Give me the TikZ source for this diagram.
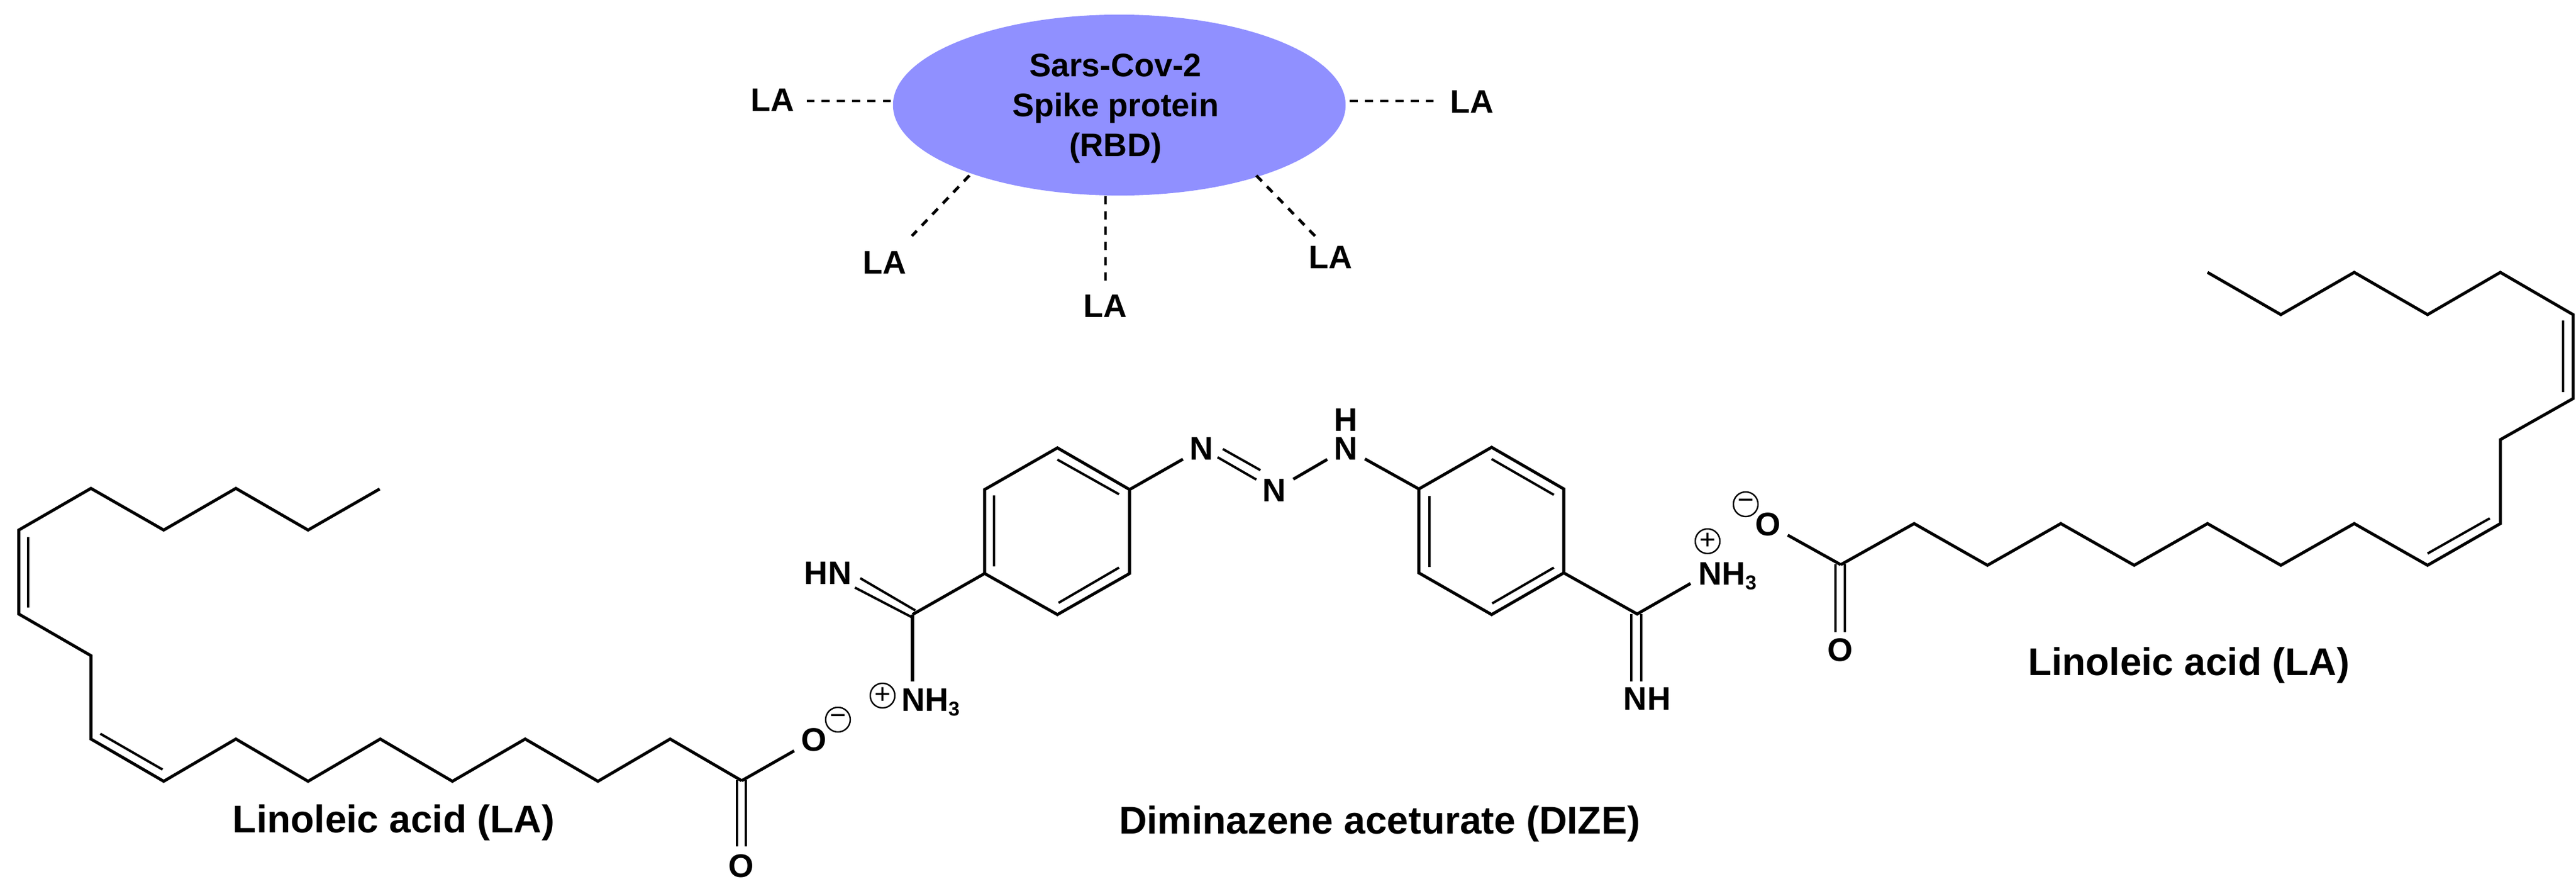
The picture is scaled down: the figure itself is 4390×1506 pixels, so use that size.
\documentclass[tikz,border=0pt]{standalone}
\usepackage{fontspec}
\setmainfont{Liberation Sans}
\usepackage{tikz}
\usetikzlibrary{shapes.geometric}
\definecolor{spikeblue}{RGB}{144,144,255}
\newcommand{\subthree}{\raisebox{-2.3pt}{\fontsize{9.7}{10}\selectfont 3}}
\begin{document}
\begin{tikzpicture}[
            x=0.01cm, y=-0.01cm,
            bond/.style={line width=1.45pt},
            innerbond/.style={line width=1.15pt},
            hbond/.style={line width=1.4pt, dash pattern=on 0.135cm off 0.125cm},
            atom/.style={inner sep=0pt, outer sep=0.12cm, font=\fontsize{15.8}{17}\selectfont\bfseries},
            atomtext/.style={atom, outer sep=0pt, anchor=base west},
            la/.style={atom, outer sep=0pt},
            title/.style={inner sep=0pt, anchor=base, font=\fontsize{18.7}{22}\selectfont\bfseries},
            charge/.style={circle, draw, line width=0.7pt, minimum size=0.42cm, inner sep=0pt, font=\fontsize{13.5}{14}\selectfont},
            protein/.style={ellipse, fill=spikeblue, minimum width=7.71cm, minimum height=3.08cm, inner sep=0pt},
            proteintext/.style={inner sep=0pt, align=center, font=\fontsize{15.8}{19.3}\selectfont\bfseries}
        ]
        \useasboundingbox (0,0) rectangle (4390,1506);

        % Spike protein
        \node[protein] (rbd) at (1907.5,179) {};
        \node[proteintext] (rbdtext) at (1901,185) {Sars-Cov-2\\Spike protein\\(RBD)};
        \node[la] (la1) at (1317,170) {LA};
        \node[la] (la2) at (2509,173) {LA};
        \node[la] (la3) at (1508,447) {LA};
        \node[la] (la4) at (1884,521) {LA};
        \node[la] (la5) at (2268,438) {LA};
        \coordinate (d1a) at (1518,172); \coordinate (d1b) at (1375,172);
        \coordinate (d2a) at (2300,172); \coordinate (d2b) at (2443,172);
        \coordinate (d3a) at (1652,299); \coordinate (d3b) at (1554,402);
        \coordinate (d4a) at (1884,334); \coordinate (d4b) at (1884,478);
        \coordinate (d5a) at (2141,299); \coordinate (d5b) at (2241,402);
        \foreach \a/\b in {d1a/d1b, d2a/d2b, d3a/d3b, d4a/d4b, d5a/d5b}
            \draw[hbond] (\a) -- (\b);

        % Left linoleic acid
        \coordinate (ca) at (1264,1330);
        \draw[bond] (647,833) -- (525,903) -- (402,832) -- (279,903) -- (155,832) -- (32,903)
            -- (32,1046) -- (155,1117) -- (155,1259) -- (279,1331) -- (402,1259) -- (525,1331)
            -- (648,1259) -- (771,1331) -- (895,1259) -- (1019,1331) -- (1142,1259) -- (ca);
        \draw[innerbond] (48,915) -- (48,1035);
        \draw[innerbond] (171,1250) -- (277,1311);
        \node[atom] (oa) at (1387,1260) {O};
        \node[atom] (ob) at (1263,1475) {O};
        \node[charge] (oaminus) at (1428,1226) {−};
        \draw[bond] (ca) -- (oa);
        \draw[innerbond] (1256,1329) -- (1256,1442);
        \draw[innerbond] (1271,1329) -- (1271,1442);
        \node[title] (laleft) at (671,1418) {Linoleic acid (LA)};

        % Diminazene
        \coordinate (r1ur) at (1925,834); \coordinate (r1ll) at (1678,977);
        \coordinate (r2ul) at (2418,833); \coordinate (r2lr) at (2665,976);
        \coordinate (cl) at (1555,1047); \coordinate (cr) at (2790,1046);
        \draw[bond] (1802,763) -- (r1ur) -- (1925,977) -- (1802,1047) -- (r1ll) -- (1678,834) -- cycle;
        \draw[innerbond] (1802,783) -- (1907,842);
        \draw[innerbond] (1694,844) -- (1694,965);
        \draw[innerbond] (1804,1027) -- (1907,967);
        \draw[bond] (r2ul) -- (2542,762) -- (2665,833) -- (r2lr) -- (2542,1047) -- (2418,976) -- cycle;
        \draw[innerbond] (2436,845) -- (2436,966);
        \draw[innerbond] (2542,782) -- (2648,843);
        \draw[innerbond] (2543,1028) -- (2648,967);
        \node[atom] (n1) at (2048,764) {N};
        \node[atom] (n2) at (2172,835) {N};
        \node[atom] (n3) at (2294,764) {N};
        \node[atom] (h3) at (2294,715) {H};
        \draw[bond] (r1ur) -- (n1);
        \draw[innerbond] (2084,765) -- (2148,801);
        \draw[innerbond] (2075,779) -- (2141,817);
        \draw[bond] (n2) -- (n3);
        \draw[bond] (n3) -- (r2ul);
        % left amidine
        \node[atom] (hn) at (1411,976) {HN};
        \node[atomtext] (nh3l) at (1536,1211) {NH\subthree};
        \node[charge] (plusl) at (1504,1185) {+};
        \draw[bond] (r1ll) -- (cl);
        \draw[bond, shorten >=0.12cm] (cl) -- (cl |- nh3l.north);
        \draw[innerbond] (1457,1001) -- (1553,1051);
        \draw[innerbond] (1466,985) -- (1560,1040);
        % right amidine
        \node[atom] (nhr) at (2807,1190) {NH};
        \node[atomtext] (nh3r) at (2894,996) {NH\subthree};
        \node[charge] (plusr) at (2910,922) {+};
        \coordinate (nh3rend) at (2881,994);
        \draw[bond] (r2lr) -- (cr) -- (nh3rend);
        \draw[innerbond] (2780,1046) -- (2780,1161);
        \draw[innerbond] (2797,1046) -- (2797,1161);
        \node[title] (dize) at (2351,1420) {Diminazene aceturate (DIZE)};

        % Right linoleic acid
        \coordinate (cb) at (3137,962);
        \draw[bond] (3762,464) -- (3887,536) -- (4012,464) -- (4137,536) -- (4261,464) -- (4385,536)
            -- (4385,679) -- (4261,749) -- (4261,892) -- (4137,963) -- (4012,892) -- (3887,963)
            -- (3762,892) -- (3637,963) -- (3512,892) -- (3387,963) -- (3262,892) -- (cb);
        \draw[innerbond] (4368,546) -- (4368,668);
        \draw[innerbond] (4137,943) -- (4243,883);
        \node[atom] (oc) at (3013,893) {O};
        \node[atom] (od) at (3136,1107) {O};
        \node[charge] (ocminus) at (2975,859) {−};
        \draw[bond] (cb) -- (oc);
        \draw[innerbond] (3128,961) -- (3128,1077);
        \draw[innerbond] (3144,961) -- (3144,1077);
        \node[title] (laright) at (3730,1150) {Linoleic acid (LA)};
\end{tikzpicture}
\end{document}
